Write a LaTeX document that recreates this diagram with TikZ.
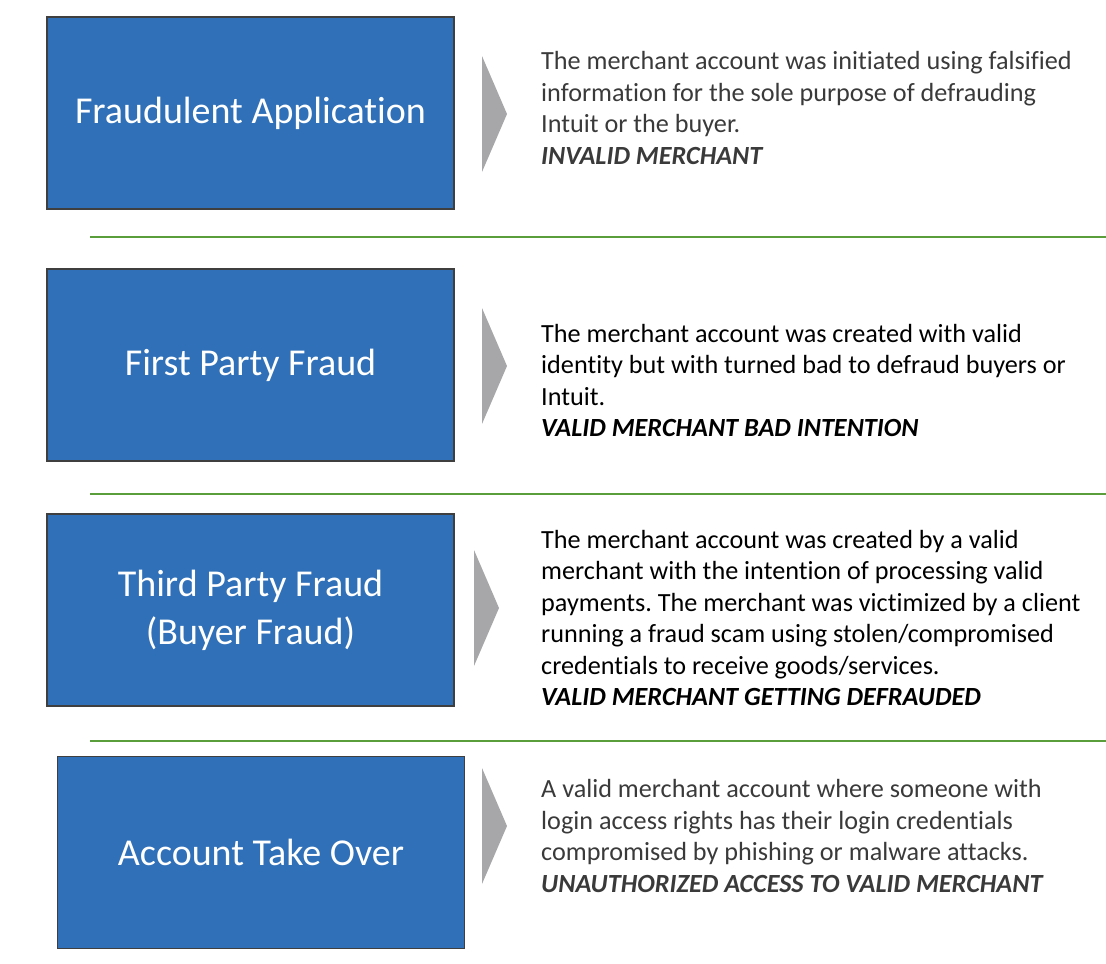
\documentclass[tikz,border=0pt]{standalone}
\usepackage{fontspec}
\setmainfont{Carlito}[Ligatures=NoCommon]
\definecolor{fraudBlue}{HTML}{2F70B8}
\definecolor{fraudEdge}{HTML}{3F3F3F}
\definecolor{fraudGrey}{HTML}{A7A7AA}
\definecolor{fraudGreen}{HTML}{5A9E3C}
\definecolor{fraudText}{HTML}{3A3A3A}
\usetikzlibrary{positioning}
\frenchspacing

\tikzset{
	kind/.style={draw=fraudEdge, line width=1.6pt, fill=fraudBlue, minimum width=407pt, minimum height=192pt, text=white, align=center, font=\fontsize{38}{48}\selectfont},
	note/.style={anchor=west, align=left, inner sep=0pt, font=\fontsize{26.2}{31.4}\selectfont},
	chev/.style={fill=fraudGrey},
	divider/.style={fraudGreen, line width=1.8pt}
}

\begin{document}
\begin{tikzpicture}[x=1pt, y=-1pt]
		\useasboundingbox (0,0) rectangle (1106,964);
		% category boxes
		\node[kind] (fa) at (250.5,113) {Fraudulent Application};
		\node[kind] (fp) at (250.5,365) {First Party Fraud};
		\node[kind] (tp) at (250.5,610) {Third Party Fraud\\(Buyer Fraud)};
		\node[kind] (ato) at (261,852.5) {Account Take Over};
		% chevrons
		\foreach \x/\y in {482/114, 482/366, 474/608, 482/826}{
			\fill[chev] (\x,\y-58) -- (\x+25,\y) -- (\x,\y+58) -- cycle;
		}
		% descriptions
		\node[note, text=fraudText] (faTxt) at (541,108) {The merchant account was initiated using falsified\\information for the sole purpose of defrauding\\Intuit or the buyer.\\\textbf{\textit{INVALID MERCHANT}}};
		\node[note] (fpTxt) at (541,380.5) {The merchant account was created with valid\\identity but with turned bad to defraud buyers or\\Intuit.\\\textbf{\textit{VALID MERCHANT BAD INTENTION}}};
		\node[note] (tpTxt) at (541,618) {The merchant account was created by a valid\\merchant with the intention of processing valid\\payments. The merchant was victimized by a client\\running a fraud scam using stolen/compromised\\credentials to receive goods/services.\\\textbf{\textit{VALID MERCHANT GETTING DEFRAUDED}}};
		\node[note, text=fraudText] (atoTxt) at (541,836) {A valid merchant account where someone with\\login access rights has their login credentials\\compromised by phishing or malware attacks.\\\textbf{\textit{UNAUTHORIZED ACCESS TO VALID MERCHANT}}};
		% green separators
		\foreach \y in {237,494,741}{
			\draw[divider] (90,\y) -- (1106,\y);
		}
\end{tikzpicture}
\end{document}
